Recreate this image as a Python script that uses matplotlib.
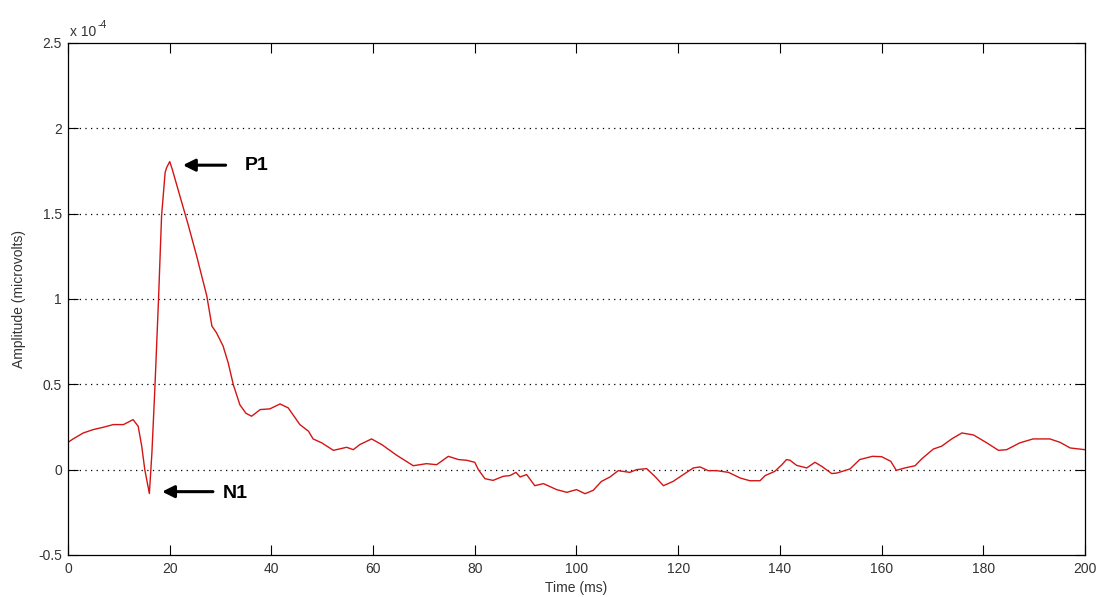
import matplotlib
matplotlib.use("Agg")
import matplotlib.pyplot as plt
import numpy as np

# Data (time in ms, amplitude in units of 1e-4)
time_ms = [0, 1, 3, 5, 6.9, 8.9, 10.9, 12.8, 13.8, 14.5, 15.1, 16.0, 16.5, 17.1, 17.8,
           18.4, 19.1, 19.4, 20.0, 20.5, 22.0, 23.7, 25.3, 27.3, 28.3, 29.2, 30.5, 31.5,
           32.5, 33.8, 35.0, 36.1, 37.8, 39.7, 41.7, 43.3, 45.6, 47.3, 48.2, 49.9, 52.2,
           54.8, 56.1, 57.4, 59.7, 61.7, 64.6, 67.9, 70.5, 72.5, 74.8, 76.8, 78.4, 80.0,
           80.7, 82.0, 83.6, 85.6, 86.9, 88.1, 88.9, 90.2, 91.8, 93.5, 96.1, 98.1, 100.0,
           101.7, 103.3, 104.9, 106.6, 108.2, 110.5, 111.8, 113.8, 115.4, 117.1, 119.0,
           121.0, 123.0, 124.3, 125.9, 127.6, 129.9, 132.2, 134.1, 136.1, 137.1, 139.0,
           140.4, 141.3, 142.0, 143.3, 145.3, 146.9, 148.2, 150.2, 151.2, 153.8, 155.7,
           158.2, 160.0, 161.8, 162.9, 164.6, 166.6, 167.9, 170.2, 171.8, 173.8, 175.8,
           178.1, 180.7, 183.0, 184.6, 187.2, 189.8, 193.1, 195.1, 197.1, 200.0]
amplitude = [0.16, 0.18, 0.215, 0.235, 0.248, 0.264, 0.264, 0.293, 0.254, 0.137, 0.0,
             -0.14, 0.098, 0.489, 0.998, 1.487, 1.741, 1.77, 1.805, 1.76, 1.604, 1.428,
             1.252, 1.017, 0.841, 0.802, 0.724, 0.626, 0.499, 0.38, 0.33, 0.313, 0.352,
             0.356, 0.385, 0.362, 0.264, 0.225, 0.180, 0.157, 0.113, 0.131, 0.117, 0.147,
             0.180, 0.147, 0.085, 0.023, 0.035, 0.029, 0.078, 0.059, 0.055, 0.043, 0.0,
             -0.053, -0.063, -0.039, -0.035, -0.016, -0.043, -0.029, -0.094, -0.082,
             -0.117, -0.133, -0.117, -0.141, -0.121, -0.069, -0.043, -0.006, -0.016, 0.0,
             0.006, -0.039, -0.094, -0.069, -0.029, 0.010, 0.016, -0.006, -0.006, -0.016,
             -0.049, -0.065, -0.065, -0.035, -0.010, 0.029, 0.059, 0.055, 0.025, 0.010,
             0.043, 0.020, -0.023, -0.020, 0.004, 0.059, 0.078, 0.076, 0.049, -0.004,
             0.010, 0.023, 0.063, 0.121, 0.137, 0.180, 0.215, 0.203, 0.157, 0.113, 0.117,
             0.157, 0.180, 0.180, 0.160, 0.127, 0.117]

y_ticks = [-0.5, 0, 0.5, 1, 1.5, 2, 2.5]
y_tick_labels = ["-0.5", "0", "0.5", "1", "1.5", "2", "2.5"]
x_ticks = [0, 20, 40, 60, 80, 100, 120, 140, 160, 180, 200]

SCALE = 1e-4
TXT = '#333333'

plt.rcParams['font.family'] = ['Liberation Sans', 'DejaVu Sans']

fig = plt.figure(figsize=(10.97, 5.97), dpi=100)
ax = fig.add_axes([0.062, 0.0704, 0.927, 0.8576])

t = np.array(time_ms)
v = np.array(amplitude) * SCALE
ax.plot(t, v, color='#d41414', lw=1.0)

ax.set_xlim(0, 200)
ax.set_ylim(-0.5 * SCALE, 2.5 * SCALE)
ax.set_xticks(x_ticks)
ax.set_xticklabels([str(x) for x in x_ticks])
ax.set_yticks([y * SCALE for y in y_ticks])
ax.set_yticklabels(y_tick_labels)

for yt in y_ticks[1:-1]:
    ax.axhline(yt * SCALE, color='black', lw=0.9, ls=(0, (1, 3.5)), zorder=0)

ax.tick_params(direction='in', length=7.5, width=0.8, top=True, right=True,
               labelsize=10, colors='black', labelcolor=TXT)
ax.tick_params(axis='x', pad=5)
ax.tick_params(axis='y', pad=4.5)
for s in ax.spines.values():
    s.set_linewidth(0.9)

ax.set_xlabel("Time (ms)", fontsize=10, color=TXT, labelpad=4)
ax.set_ylabel("Amplitude (microvolts)", fontsize=10, color=TXT, labelpad=8.5)

ax.text(0.0015, 1.008, "x 10", transform=ax.transAxes, fontsize=10,
        color=TXT, ha='left', va='bottom')
ax.text(0.0295, 1.026, "-4", transform=ax.transAxes, fontsize=7.5,
        color=TXT, ha='left', va='bottom')

arrow = dict(arrowstyle='-|>', color='black', lw=2.2, mutation_scale=18,
             shrinkA=0, shrinkB=0)
ax.annotate("", xy=(22.6, 1.784 * SCALE), xytext=(31.0, 1.784 * SCALE), arrowprops=arrow)
ax.text(34.8, 1.784 * SCALE, "P1", fontsize=14, fontweight='bold', ha='left', va='center')
ax.annotate("", xy=(18.5, -0.129 * SCALE), xytext=(28.5, -0.129 * SCALE), arrowprops=arrow)
ax.text(30.4, -0.14 * SCALE, "N1", fontsize=14, fontweight='bold', ha='left', va='center')

fig.savefig("out.png", dpi=100)
